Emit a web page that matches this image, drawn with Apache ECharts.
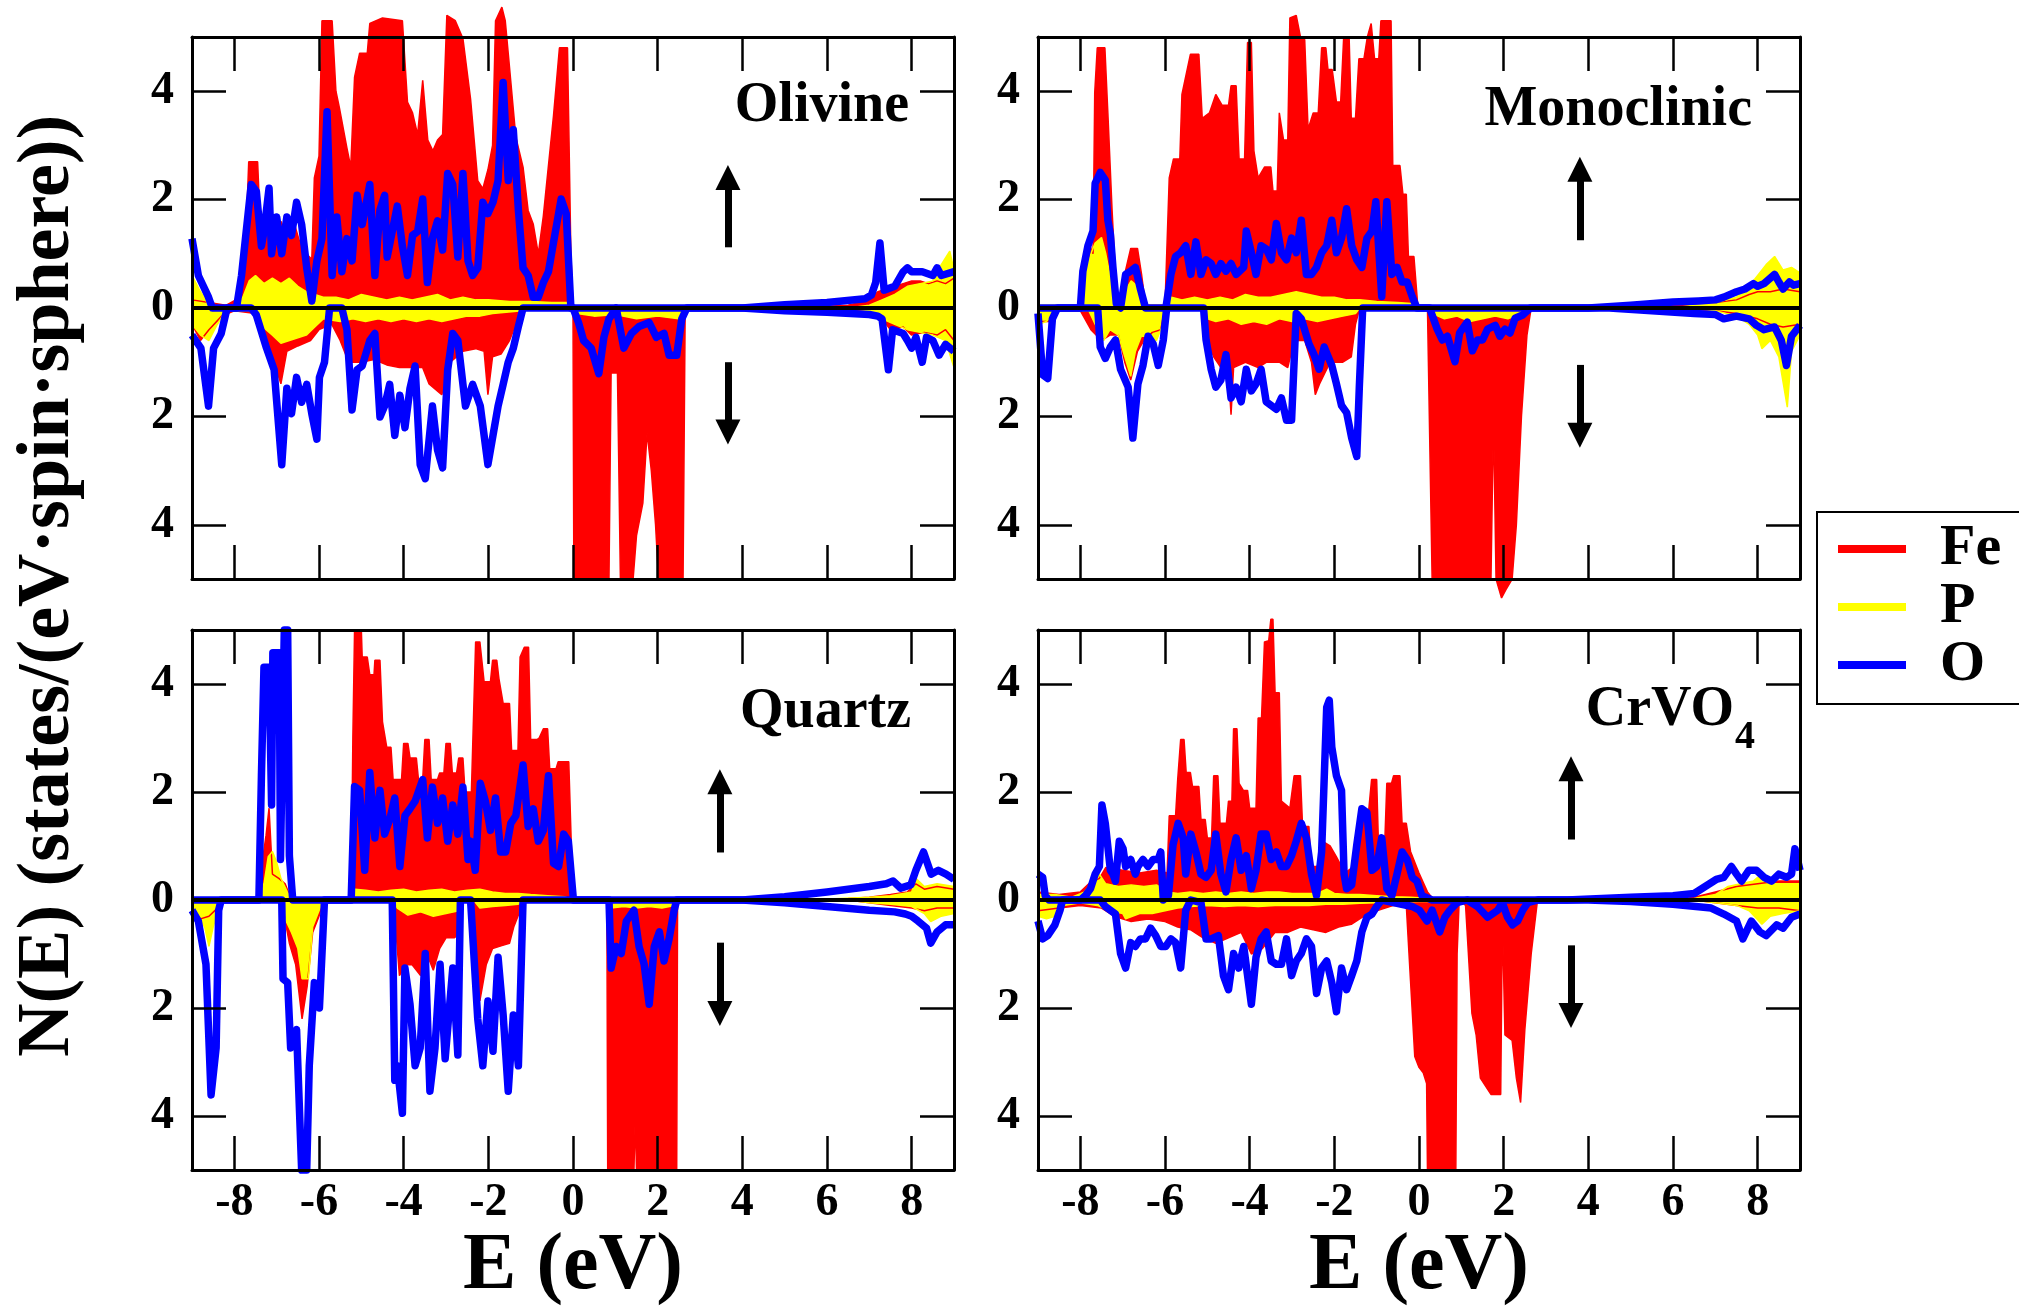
<!DOCTYPE html>
<html>
<head>
<meta charset="utf-8">
<title>Projected DOS</title>
<script src="https://cdn.jsdelivr.net/npm/echarts@6/dist/echarts.min.js"></script>
<style>
  html, body { margin: 0; padding: 0; background: #fff; }
  #chart { width: 2019px; height: 1308px; }
</style>
</head>
<body>
<div id="chart"></div>
<script>
// ---- tick positions ----
const energyTicks = [-8, -6, -4, -2, 0, 2, 4, 6, 8];
const dosTicks = [-4, -2, 0, 2, 4];
const speciesNames = ['Fe', 'P', 'O'];
const panelNames = ['Olivine', 'Monoclinic', 'Quartz', 'CrVO4'];

// ---- Olivine: [E (eV), N(E)] ; spin down stored as negative values ----
const olivineFeUp = [[-9,0.15],[-8.6,0.1],[-8.2,0.05],[-7.85,0.2],[-7.75,0.8],[-7.66,2.7],[-7.45,2.7],[-7.36,1.0],[-7.2,1.5],[-7.05,1.2],[-6.9,1.6],[-6.75,1.3],[-6.6,1.6],[-6.45,1.2],[-6.3,1.0],[-6.17,0.9],[-6.11,2.4],[-6.0,2.8],[-5.93,5.3],[-5.69,5.3],[-5.6,4.0],[-5.52,3.7],[-5.34,2.95],[-5.25,2.6],[-5.16,4.26],[-5.04,4.7],[-4.86,4.7],[-4.8,5.25],[-4.5,5.35],[-4.03,5.3],[-3.91,3.8],[-3.79,3.6],[-3.67,3.2],[-3.55,4.2],[-3.43,3.1],[-3.31,2.9],[-3.2,3.1],[-3.08,3.2],[-2.98,5.4],[-2.78,5.3],[-2.6,4.97],[-2.42,3.86],[-2.25,2.35],[-2.13,2.2],[-2.01,2.55],[-1.9,3.0],[-1.83,5.3],[-1.68,5.55],[-1.6,5.3],[-1.53,4.7],[-1.35,3.15],[-1.18,2.6],[-1.06,1.8],[-0.94,1.55],[-0.82,1.0],[-0.7,1.7],[-0.46,3.55],[-0.32,4.8],[-0.13,4.8],[-0.05,1.0],[0,0],[5,0],[6.5,0.05],[7.0,0.15],[7.2,0.3],[7.4,0.35],[7.6,0.4],[7.8,0.45],[8.0,0.5],[8.2,0.5],[8.4,0.45],[8.6,0.5],[8.8,0.45],[9.0,0.55]];
const olivineFeDn = [[-9,-0.3],[-8.8,-0.6],[-8.6,-0.4],[-8.3,-0.15],[-8.0,-0.05],[-7.5,-0.1],[-7.3,-0.5],[-7.1,-0.9],[-6.9,-1.4],[-6.76,-0.8],[-6.5,-0.7],[-6.2,-0.6],[-6.0,-0.4],[-5.7,-0.3],[-5.5,-0.6],[-5.3,-1.0],[-5.0,-1.0],[-4.7,-0.95],[-4.4,-1.05],[-4.1,-1.1],[-3.8,-1.1],[-3.55,-1.1],[-3.4,-1.4],[-3.1,-1.6],[-2.9,-1.0],[-2.6,-0.8],[-2.3,-0.75],[-2.1,-0.8],[-2.01,-1.6],[-1.9,-0.9],[-1.7,-0.85],[-1.5,-0.6],[-1.35,-0.3],[-1.2,0],[0,0],[0.02,-5],[0.85,-5],[0.9,-1.2],[1.05,-1.2],[1.12,-5],[1.42,-5],[1.5,-4.2],[1.65,-3.6],[1.75,-2.3],[1.85,-3.0],[1.95,-4.0],[2.02,-5],[2.6,-5],[2.65,0],[6.5,0],[7.0,-0.1],[7.3,-0.2],[7.5,-0.4],[7.8,-0.35],[8.0,-0.5],[8.3,-0.45],[8.6,-0.5],[8.8,-0.4],[9.0,-0.6]];
const olivinePUp = [[-9,0.6],[-8.8,0.3],[-8.6,0.05],[-8.0,0.02],[-7.8,0.2],[-7.65,0.5],[-7.5,0.6],[-7.3,0.45],[-7.1,0.55],[-6.9,0.45],[-6.7,0.55],[-6.5,0.4],[-6.3,0.3],[-6.1,0.25],[-5.9,0.2],[-5.6,0.2],[-5.3,0.15],[-5.0,0.25],[-4.7,0.2],[-4.4,0.15],[-4.1,0.2],[-3.8,0.15],[-3.5,0.2],[-3.2,0.25],[-2.9,0.15],[-2.6,0.2],[-2.3,0.15],[-2.0,0.15],[-1.5,0.12],[-1.0,0.12],[-0.5,0.1],[-0.1,0.1],[0,0],[6.5,0],[7.0,0.05],[7.3,0.15],[7.6,0.25],[7.9,0.4],[8.2,0.45],[8.5,0.5],[8.7,0.8],[8.9,1.05],[9.0,0.7]];
const olivinePDn = [[-9,-0.3],[-8.8,-0.5],[-8.6,-0.6],[-8.4,-0.3],[-8.2,-0.05],[-7.6,-0.05],[-7.4,-0.3],[-7.1,-0.5],[-6.9,-0.65],[-6.7,-0.6],[-6.5,-0.55],[-6.3,-0.5],[-6.1,-0.35],[-5.9,-0.2],[-5.5,-0.25],[-5.2,-0.2],[-4.9,-0.25],[-4.6,-0.2],[-4.3,-0.25],[-4.0,-0.2],[-3.7,-0.25],[-3.4,-0.2],[-3.1,-0.25],[-2.8,-0.2],[-2.5,-0.15],[-2.2,-0.15],[-1.9,-0.1],[-1.2,-0.05],[-1.0,0],[0,0],[0.1,-0.1],[0.5,-0.15],[1.0,-0.12],[1.5,-0.2],[2.0,-0.15],[2.5,-0.2],[2.65,0],[6.5,0],[7.0,-0.05],[7.3,-0.2],[7.6,-0.3],[7.9,-0.4],[8.2,-0.45],[8.5,-0.5],[8.8,-0.6],[9.0,-1.1]];
const olivineOUp = [[-9.0,1.28],[-8.85,0.6],[-8.61,0.2],[-8.52,0],[-7.95,0],[-7.83,0.6],[-7.72,1.41],[-7.6,2.28],[-7.48,2.15],[-7.36,1.14],[-7.3,1.41],[-7.18,2.21],[-7.12,1.0],[-7.0,1.68],[-6.88,1.0],[-6.76,1.68],[-6.65,1.34],[-6.53,1.95],[-6.41,1.54],[-6.29,0.74],[-6.17,0.13],[-6.05,0.87],[-5.93,1.28],[-5.81,3.62],[-5.69,0.6],[-5.58,1.68],[-5.46,0.67],[-5.34,1.28],[-5.22,0.87],[-5.1,2.08],[-4.98,1.54],[-4.8,2.28],[-4.68,0.6],[-4.56,1.81],[-4.45,2.08],[-4.39,0.94],[-4.27,1.41],[-4.15,1.88],[-4.03,1.14],[-3.91,0.6],[-3.79,1.34],[-3.67,1.41],[-3.55,2.01],[-3.44,0.47],[-3.32,1.28],[-3.2,1.61],[-3.08,1.07],[-2.96,2.48],[-2.84,2.28],[-2.72,0.94],[-2.6,2.48],[-2.48,0.87],[-2.37,0.6],[-2.25,0.74],[-2.13,1.95],[-2.01,1.74],[-1.89,1.95],[-1.77,2.35],[-1.65,4.16],[-1.53,2.35],[-1.41,3.29],[-1.29,1.81],[-1.18,0.74],[-1.06,0.6],[-0.94,0.2],[-0.82,0.2],[-0.7,0.47],[-0.58,0.67],[-0.46,1.21],[-0.28,2.01],[-0.16,1.74],[-0.05,0],[4,0],[5,0.06],[6,0.1],[6.9,0.17],[7.05,0.24],[7.15,0.47],[7.25,1.2],[7.35,0.33],[7.6,0.4],[7.8,0.67],[7.9,0.74],[8.0,0.67],[8.25,0.67],[8.5,0.6],[8.6,0.74],[8.7,0.6],[9.0,0.67]];
const olivineODn = [[-9.0,-0.5],[-8.79,-0.74],[-8.61,-1.81],[-8.49,-0.74],[-8.31,-0.47],[-8.17,0],[-7.6,0],[-7.48,-0.13],[-7.24,-0.74],[-7.06,-1.14],[-6.88,-2.89],[-6.76,-1.48],[-6.65,-1.95],[-6.53,-1.28],[-6.41,-1.74],[-6.29,-1.41],[-6.17,-1.95],[-6.05,-2.42],[-5.99,-1.28],[-5.87,-1.0],[-5.75,0],[-5.46,0],[-5.34,-0.4],[-5.22,-1.88],[-5.1,-1.14],[-4.98,-1.07],[-4.8,-0.6],[-4.68,-0.47],[-4.56,-2.01],[-4.45,-1.81],[-4.33,-1.41],[-4.21,-2.35],[-4.09,-1.61],[-3.97,-2.21],[-3.85,-1.48],[-3.73,-1.07],[-3.61,-2.89],[-3.49,-3.15],[-3.44,-2.75],[-3.32,-1.81],[-3.2,-2.62],[-3.08,-2.95],[-2.96,-1.14],[-2.84,-0.47],[-2.72,-0.6],[-2.54,-1.81],[-2.37,-1.41],[-2.19,-1.81],[-2.01,-2.89],[-1.89,-2.35],[-1.77,-1.81],[-1.65,-1.41],[-1.53,-1.0],[-1.41,-0.74],[-1.29,-0.34],[-1.18,0],[0,0],[0.13,-0.27],[0.25,-0.6],[0.43,-0.74],[0.61,-1.21],[0.73,-0.54],[0.85,-0.2],[1.02,0],[1.2,-0.74],[1.38,-0.47],[1.56,-0.34],[1.8,-0.27],[1.97,-0.54],[2.15,-0.47],[2.27,-0.87],[2.45,-0.87],[2.57,-0.2],[2.69,0],[4,0],[5,-0.05],[6,-0.08],[7,-0.12],[7.2,-0.15],[7.3,-0.2],[7.45,-1.14],[7.55,-0.4],[7.8,-0.47],[7.9,-0.6],[8.0,-0.74],[8.1,-0.54],[8.25,-1.0],[8.35,-0.54],[8.5,-0.6],[8.65,-0.87],[8.8,-0.67],[9,-0.8]];

// ---- Monoclinic ----
const monoFeUp = [[-9,0.03],[-8.05,0.03],[-7.9,0.9],[-7.8,1.2],[-7.7,1.0],[-7.66,3.97],[-7.6,4.8],[-7.42,4.8],[-7.35,3.6],[-7.25,1.8],[-7.15,0.3],[-7.05,0.05],[-6.93,0.7],[-6.81,1.1],[-6.65,1.1],[-6.55,0.6],[-6.46,0.05],[-6.0,0.05],[-5.9,2.4],[-5.8,2.75],[-5.65,2.75],[-5.6,3.94],[-5.4,4.68],[-5.2,4.68],[-5.12,3.5],[-4.95,3.6],[-4.8,3.94],[-4.65,3.74],[-4.5,3.74],[-4.44,4.1],[-4.32,4.1],[-4.25,2.75],[-4.12,2.75],[-4.05,4.9],[-3.96,4.9],[-3.9,2.9],[-3.8,2.4],[-3.65,2.6],[-3.5,2.6],[-3.45,2.16],[-3.35,2.16],[-3.3,3.6],[-3.2,3.1],[-3.1,3.1],[-3.05,5.35],[-2.9,5.4],[-2.8,5.0],[-2.7,4.95],[-2.62,3.3],[-2.5,3.6],[-2.38,3.6],[-2.3,4.8],[-2.2,4.8],[-2.15,4.4],[-2.05,4.4],[-1.95,3.8],[-1.85,3.8],[-1.78,4.98],[-1.65,4.98],[-1.6,3.5],[-1.5,3.5],[-1.42,4.6],[-1.3,4.6],[-1.22,5.0],[-1.13,5.25],[-1.05,4.6],[-0.95,4.6],[-0.9,5.3],[-0.66,5.3],[-0.62,2.63],[-0.45,2.63],[-0.38,2.1],[-0.3,2.1],[-0.25,0.95],[-0.12,0.95],[-0.03,0.05],[0,0],[5.5,0],[6.0,0.05],[6.5,0.08],[7.0,0.1],[7.5,0.15],[7.8,0.25],[8.0,0.3],[8.3,0.3],[8.6,0.35],[9.0,0.3]];
const monoFeDn = [[-9,-0.25],[-8.7,-0.25],[-8.5,-0.05],[-8.0,-0.05],[-7.75,-0.4],[-7.5,-0.6],[-7.3,-0.5],[-7.1,-0.5],[-6.95,-1.0],[-6.81,-1.33],[-6.65,-0.8],[-6.5,-0.6],[-6.3,-0.45],[-6.1,-0.4],[-6.0,0],[-5.1,0],[-5.0,-0.6],[-4.85,-0.9],[-4.68,-1.1],[-4.5,-1.2],[-4.44,-1.97],[-4.38,-1.1],[-4.1,-1.0],[-3.8,-1.1],[-3.6,-1.0],[-3.3,-1.0],[-3.1,-1.1],[-2.95,-0.6],[-2.7,-0.6],[-2.54,-1.0],[-2.45,-1.6],[-2.35,-1.4],[-2.1,-1.0],[-1.8,-1.0],[-1.6,-0.9],[-1.5,-0.3],[-1.4,0],[0.2,0],[0.31,-5.0],[1.7,-5.0],[1.76,-2.0],[1.82,-5.0],[1.95,-5.35],[2.05,-5.2],[2.2,-5.0],[2.3,-4.0],[2.42,-2.0],[2.55,-0.5],[2.65,0],[6.0,0],[7.0,-0.05],[7.5,-0.1],[8.0,-0.2],[8.3,-0.3],[8.6,-0.35],[9.0,-0.3]];
const monoPUp = [[-9,0.05],[-8.05,0.05],[-7.9,0.6],[-7.75,1.0],[-7.65,1.2],[-7.5,1.3],[-7.4,1.0],[-7.3,0.6],[-7.2,0.2],[-7.1,0.1],[-6.95,0.3],[-6.8,0.5],[-6.65,0.4],[-6.5,0.2],[-6.4,0.05],[-6.0,0.05],[-5.85,0.2],[-5.6,0.15],[-5.3,0.2],[-5.0,0.15],[-4.7,0.2],[-4.4,0.15],[-4.1,0.25],[-3.8,0.2],[-3.5,0.2],[-3.2,0.25],[-2.9,0.3],[-2.6,0.25],[-2.3,0.2],[-2.0,0.2],[-1.7,0.15],[-1.4,0.15],[-1.0,0.12],[-0.5,0.1],[-0.1,0.08],[0,0],[6,0],[6.5,0.05],[7.0,0.1],[7.5,0.2],[7.8,0.4],[8.0,0.6],[8.2,0.8],[8.4,0.95],[8.6,0.7],[8.8,0.75],[9.0,0.65]];
const monoPDn = [[-9,-0.3],[-8.8,-0.25],[-8.6,-0.05],[-7.8,-0.05],[-7.65,-0.3],[-7.45,-0.6],[-7.3,-0.4],[-7.1,-0.5],[-6.95,-0.9],[-6.81,-1.26],[-6.7,-0.8],[-6.55,-0.5],[-6.4,-0.55],[-6.2,-0.6],[-6.05,-0.3],[-5.95,0],[-5.1,0],[-5.0,-0.2],[-4.8,-0.25],[-4.5,-0.2],[-4.2,-0.3],[-3.9,-0.25],[-3.6,-0.3],[-3.3,-0.2],[-3.0,-0.25],[-2.7,-0.2],[-2.4,-0.25],[-2.1,-0.2],[-1.8,-0.15],[-1.5,-0.1],[-1.4,0],[0.2,0],[0.3,-0.1],[0.6,-0.2],[0.9,-0.15],[1.2,-0.25],[1.5,-0.2],[1.8,-0.15],[2.1,-0.2],[2.4,-0.1],[2.6,0],[6.5,0],[7.0,-0.05],[7.5,-0.15],[7.8,-0.3],[8.0,-0.5],[8.1,-0.75],[8.3,-0.6],[8.5,-0.9],[8.7,-1.83],[8.8,-0.8],[9.0,-0.5]];
const monoOUp = [[-9,0],[-8.0,0],[-7.94,0.68],[-7.82,1.15],[-7.7,1.42],[-7.65,2.3],[-7.53,2.5],[-7.41,2.36],[-7.35,1.62],[-7.29,1.36],[-7.23,0.75],[-7.15,0.08],[-7.05,0],[-6.93,0.62],[-6.81,0.68],[-6.7,0.75],[-6.58,0.35],[-6.46,0],[-5.98,0],[-5.86,0.62],[-5.75,0.95],[-5.63,1.02],[-5.51,1.15],[-5.39,0.62],[-5.27,1.22],[-5.15,0.62],[-5.03,0.89],[-4.91,0.82],[-4.8,0.62],[-4.68,0.82],[-4.56,0.68],[-4.44,0.82],[-4.32,0.62],[-4.14,0.75],[-4.08,1.42],[-3.96,1.02],[-3.85,0.62],[-3.73,1.15],[-3.61,1.09],[-3.49,0.89],[-3.37,1.56],[-3.25,1.02],[-3.13,0.89],[-3.01,1.29],[-2.9,1.02],[-2.78,1.62],[-2.66,0.62],[-2.54,0.62],[-2.42,0.75],[-2.3,1.02],[-2.18,1.15],[-2.06,1.62],[-1.95,1.02],[-1.83,1.29],[-1.71,1.83],[-1.59,1.15],[-1.47,0.89],[-1.35,0.75],[-1.23,1.29],[-1.11,1.42],[-1.02,1.96],[-0.94,0.95],[-0.88,0.21],[-0.76,1.96],[-0.64,0.62],[-0.52,0.75],[-0.4,0.48],[-0.28,0.48],[-0.16,0.21],[-0.05,0],[4,0],[5,0.05],[6,0.11],[6.6,0.13],[7.0,0.15],[7.2,0.2],[7.5,0.3],[7.7,0.35],[7.9,0.45],[8.0,0.4],[8.15,0.45],[8.4,0.62],[8.5,0.48],[8.6,0.35],[8.75,0.48],[8.85,0.42],[9.0,0.45]];
const monoODn = [[-9.0,-0.1],[-8.89,-1.23],[-8.77,-1.3],[-8.66,-0.2],[-8.54,0],[-7.59,0],[-7.53,-0.72],[-7.41,-0.93],[-7.29,-0.72],[-7.17,-0.59],[-7.05,-1.13],[-6.87,-1.46],[-6.76,-2.4],[-6.64,-1.4],[-6.52,-1.06],[-6.4,-0.52],[-6.28,-0.66],[-6.16,-1.06],[-6.04,-0.59],[-5.96,0],[-5.09,0],[-5.03,-0.59],[-4.91,-1.13],[-4.8,-1.46],[-4.68,-1.33],[-4.56,-0.86],[-4.44,-1.66],[-4.32,-1.46],[-4.2,-1.73],[-4.08,-1.13],[-3.96,-1.53],[-3.85,-1.4],[-3.73,-1.13],[-3.61,-1.73],[-3.49,-1.8],[-3.37,-1.87],[-3.25,-1.66],[-3.13,-2.07],[-3.01,-2.07],[-2.9,-0.1],[-2.78,-0.2],[-2.6,-0.66],[-2.48,-0.86],[-2.36,-1.13],[-2.24,-0.72],[-2.06,-1.06],[-1.95,-1.4],[-1.83,-1.8],[-1.71,-1.93],[-1.59,-2.4],[-1.47,-2.74],[-1.41,-1.46],[-1.33,0],[0.25,0],[0.43,-0.39],[0.55,-0.59],[0.67,-0.52],[0.85,-0.99],[0.96,-0.46],[1.14,-0.26],[1.26,-0.79],[1.38,-0.59],[1.5,-0.59],[1.62,-0.39],[1.8,-0.32],[1.91,-0.52],[2.03,-0.39],[2.15,-0.46],[2.27,-0.19],[2.45,-0.13],[2.63,0],[4.5,0],[5.5,-0.05],[6.5,-0.1],[7.0,-0.12],[7.2,-0.2],[7.5,-0.15],[7.8,-0.2],[7.97,-0.32],[8.15,-0.4],[8.4,-0.35],[8.56,-0.6],[8.68,-1.06],[8.8,-0.52],[9.0,-0.32]];

// ---- Quartz ----
const quartzFeUp = [[-9,0],[-7.42,0],[-7.36,0.6],[-7.25,1.2],[-7.18,1.7],[-7.1,0.48],[-6.95,0.4],[-6.8,0.3],[-6.7,0.1],[-6.62,0],[-5.24,0],[-5.2,3.0],[-5.16,5.0],[-5.0,5.0],[-4.98,4.5],[-4.86,4.5],[-4.8,4.17],[-4.7,4.17],[-4.68,4.44],[-4.56,4.44],[-4.5,3.3],[-4.4,2.83],[-4.3,2.83],[-4.25,2.23],[-4.05,2.23],[-4.0,2.9],[-3.9,2.9],[-3.85,2.63],[-3.7,2.63],[-3.65,2.23],[-3.55,2.23],[-3.5,2.97],[-3.4,2.97],[-3.35,2.23],[-3.2,2.23],[-3.15,2.35],[-3.05,2.35],[-3.0,2.9],[-2.9,2.9],[-2.85,2.35],[-2.75,2.35],[-2.7,2.63],[-2.6,2.63],[-2.55,2.0],[-2.4,2.0],[-2.3,4.78],[-2.2,4.78],[-2.1,4.04],[-1.95,4.04],[-1.9,4.44],[-1.8,4.44],[-1.75,4.1],[-1.65,3.64],[-1.5,3.64],[-1.45,2.77],[-1.3,2.77],[-1.25,4.5],[-1.15,4.68],[-1.05,4.68],[-1.0,2.97],[-0.85,2.97],[-0.8,3.0],[-0.7,3.17],[-0.6,3.17],[-0.55,2.43],[-0.4,2.43],[-0.35,2.56],[-0.1,2.56],[0,0],[5,0],[6.5,0.03],[7.0,0.05],[7.5,0.1],[7.9,0.15],[8.1,0.3],[8.3,0.2],[8.6,0.25],[9.0,0.2]];
const quartzFeDn = [[-9,-0.15],[-8.8,-0.35],[-8.6,-0.3],[-8.4,-0.15],[-8.3,0],[-6.9,0],[-6.82,-0.3],[-6.7,-0.8],[-6.55,-1.2],[-6.4,-2.2],[-6.28,-1.6],[-6.15,-0.6],[-6.0,-0.3],[-5.9,0],[-4.3,0],[-4.2,-0.4],[-4.1,-1.4],[-3.95,-1.2],[-3.8,-1.2],[-3.6,-1.4],[-3.45,-1.0],[-3.3,-1.3],[-3.15,-0.9],[-3.0,-0.7],[-2.8,-0.7],[-2.65,-0.6],[-2.6,0],[-2.4,0],[-2.3,-1.0],[-2.2,-1.87],[-2.05,-1.2],[-1.9,-0.9],[-1.7,-0.85],[-1.5,-0.8],[-1.4,-0.5],[-1.25,-0.2],[-1.18,0],[0.8,0],[0.82,-5],[1.44,-5],[1.47,-4.0],[1.5,-5],[2.45,-5],[2.47,0],[6.5,0],[7.0,-0.05],[7.5,-0.1],[8.0,-0.15],[8.3,-0.2],[8.6,-0.15],[9.0,-0.15]];
const quartzPUp = [[-9,0],[-7.4,0],[-7.3,0.3],[-7.2,0.8],[-7.1,0.9],[-7.0,0.7],[-6.9,0.4],[-6.75,0.15],[-6.65,0],[-5.25,0],[-5.15,0.2],[-4.9,0.18],[-4.6,0.15],[-4.3,0.18],[-4.0,0.2],[-3.7,0.15],[-3.4,0.18],[-3.1,0.2],[-2.8,0.15],[-2.5,0.18],[-2.2,0.2],[-1.9,0.15],[-1.6,0.12],[-1.3,0.12],[-1.0,0.1],[-0.6,0.08],[-0.2,0.06],[0,0],[5.5,0],[7.0,0.05],[7.5,0.08],[8.0,0.15],[8.1,0.4],[8.3,0.25],[8.6,0.3],[9.0,0.25]];
const quartzPDn = [[-9,-0.15],[-8.85,-0.3],[-8.7,-0.5],[-8.6,-0.86],[-8.5,-0.5],[-8.35,-0.1],[-8.3,0],[-6.9,0],[-6.8,-0.35],[-6.65,-0.6],[-6.5,-0.9],[-6.4,-1.46],[-6.25,-1.46],[-6.15,-0.5],[-6.0,-0.2],[-5.9,0],[-4.25,0],[-4.15,-0.15],[-3.9,-0.28],[-3.6,-0.22],[-3.3,-0.3],[-3.0,-0.25],[-2.7,-0.2],[-2.6,0],[-2.35,0],[-2.2,-0.15],[-1.9,-0.12],[-1.6,-0.1],[-1.3,-0.08],[-1.18,0],[0.85,0],[0.9,-0.15],[1.2,-0.12],[1.5,-0.15],[1.8,-0.12],[2.1,-0.15],[2.4,-0.1],[2.45,0],[6.5,0],[7.0,-0.05],[7.5,-0.08],[8.0,-0.12],[8.3,-0.25],[8.45,-0.4],[8.7,-0.3],[9.0,-0.25]];
const quartzOUp = [[-9,0],[-7.42,0],[-7.36,2.3],[-7.3,4.31],[-7.18,4.31],[-7.12,1.76],[-7.09,4.58],[-6.94,4.58],[-6.91,0.75],[-6.82,5.0],[-6.74,5.0],[-6.7,0.82],[-6.62,0],[-5.24,0],[-5.16,2.1],[-5.04,2.03],[-4.92,0.55],[-4.8,2.36],[-4.68,1.15],[-4.56,2.03],[-4.45,1.22],[-4.33,1.49],[-4.21,1.89],[-4.09,0.62],[-3.97,1.56],[-3.85,1.69],[-3.73,1.83],[-3.55,2.23],[-3.44,1.15],[-3.32,2.09],[-3.2,1.42],[-3.08,1.89],[-2.96,1.09],[-2.84,1.76],[-2.72,1.22],[-2.6,2.09],[-2.48,0.75],[-2.42,1.09],[-2.31,0.55],[-2.19,2.16],[-2.07,1.83],[-1.95,1.29],[-1.83,1.89],[-1.71,0.89],[-1.59,0.89],[-1.47,1.42],[-1.35,1.56],[-1.18,2.5],[-1.06,1.36],[-0.94,1.69],[-0.82,1.09],[-0.7,1.29],[-0.58,2.3],[-0.46,0.68],[-0.34,0.62],[-0.22,1.22],[-0.11,1.09],[0.01,0],[4,0],[5,0.06],[6,0.15],[6.5,0.2],[7.0,0.25],[7.4,0.3],[7.56,0.35],[7.74,0.22],[7.98,0.28],[8.1,0.55],[8.28,0.89],[8.46,0.48],[8.63,0.55],[8.81,0.48],[9.0,0.38]];
const quartzODn = [[-9,-0.19],[-8.85,-0.39],[-8.67,-1.19],[-8.55,-3.61],[-8.43,-2.74],[-8.37,-0.19],[-8.31,0],[-6.88,0],[-6.85,-1.46],[-6.74,-1.53],[-6.67,-2.74],[-6.53,-2.4],[-6.41,-5.0],[-6.29,-5.0],[-6.23,-3.07],[-6.11,-1.53],[-5.99,-2.0],[-5.87,0],[-4.27,0],[-4.21,-3.34],[-4.15,-3.07],[-4.03,-3.95],[-3.97,-1.26],[-3.85,-1.93],[-3.73,-3.07],[-3.61,-2.74],[-3.49,-0.99],[-3.38,-3.54],[-3.26,-2.74],[-3.14,-1.19],[-3.02,-2.94],[-2.84,-1.26],[-2.72,-2.87],[-2.66,0],[-2.42,0],[-2.25,-2.2],[-2.13,-3.07],[-2.01,-1.87],[-1.89,-2.8],[-1.77,-1.06],[-1.65,-2.13],[-1.53,-3.54],[-1.41,-2.13],[-1.29,-3.07],[-1.18,0],[0.85,0],[0.9,-1.26],[1.02,-0.86],[1.14,-0.99],[1.26,-0.39],[1.44,-0.19],[1.56,-0.86],[1.68,-1.19],[1.8,-1.93],[1.92,-0.86],[2.04,-0.59],[2.15,-1.13],[2.27,-0.72],[2.39,-0.19],[2.45,0],[4,0],[5,-0.05],[6,-0.12],[7,-0.19],[7.6,-0.22],[7.85,-0.26],[8.0,-0.3],[8.15,-0.39],[8.35,-0.52],[8.45,-0.8],[8.6,-0.59],[8.8,-0.46],[9.0,-0.46]];

// ---- CrVO4 ----
const crvoFeUp = [[-9,0.15],[-8.5,0.1],[-8.0,0.15],[-7.8,0.3],[-7.55,0.4],[-7.4,0.6],[-7.0,0.55],[-6.6,0.5],[-6.2,0.55],[-5.95,0.5],[-5.9,1.56],[-5.75,1.56],[-5.7,2.23],[-5.63,2.97],[-5.55,2.97],[-5.5,2.36],[-5.4,2.36],[-5.35,2.1],[-5.2,2.1],[-5.15,1.49],[-5.05,1.49],[-5.0,1.15],[-4.9,1.15],[-4.85,2.3],[-4.75,2.3],[-4.7,1.42],[-4.55,1.42],[-4.5,1.83],[-4.42,1.83],[-4.38,3.17],[-4.3,3.17],[-4.25,2.16],[-4.15,2.03],[-4.05,2.03],[-4.0,1.7],[-3.85,1.7],[-3.8,3.37],[-3.72,3.37],[-3.65,4.78],[-3.55,4.8],[-3.5,5.2],[-3.45,5.2],[-3.4,3.84],[-3.3,3.84],[-3.25,1.83],[-3.05,1.7],[-2.95,2.3],[-2.8,2.3],[-2.75,1.36],[-2.6,1.36],[-2.55,0.62],[-2.4,0.62],[-2.3,1.1],[-2.1,1.0],[-1.95,0.8],[-1.75,0.5],[-1.55,0.62],[-1.45,0.62],[-1.35,1.56],[-1.2,1.56],[-1.12,2.23],[-1.0,2.23],[-0.95,0.8],[-0.82,0.8],[-0.76,2.16],[-0.65,2.16],[-0.6,2.3],[-0.45,2.3],[-0.4,1.42],[-0.3,1.42],[-0.2,0.9],[0.0,0.5],[0.2,0.15],[0.35,0],[6.0,0],[6.5,0.05],[7.0,0.15],[7.5,0.25],[8.0,0.3],[8.5,0.35],[9.0,0.35]];
const crvoFeDn = [[-9,-0.2],[-8.5,-0.15],[-8.0,-0.1],[-7.5,-0.15],[-7.2,-0.3],[-6.8,-0.4],[-6.4,-0.35],[-6.0,-0.4],[-5.7,-0.5],[-5.4,-0.55],[-5.1,-0.7],[-4.8,-0.8],[-4.5,-0.7],[-4.2,-0.6],[-3.96,-1.0],[-3.7,-0.9],[-3.4,-0.6],[-3.1,-0.6],[-2.8,-0.5],[-2.5,-0.55],[-2.2,-0.6],[-1.9,-0.5],[-1.6,-0.45],[-1.3,-0.3],[-1.0,-0.2],[-0.6,-0.1],[-0.3,-0.1],[-0.2,-1.5],[-0.1,-2.9],[0.0,-3.1],[0.1,-3.2],[0.18,-3.4],[0.2,-5.0],[0.87,-5.0],[0.9,-1.0],[0.95,0],[1.1,-0.1],[1.25,-2.1],[1.35,-2.5],[1.45,-3.3],[1.7,-3.6],[1.93,-3.6],[1.97,-0.3],[2.03,-2.5],[2.2,-2.6],[2.3,-3.3],[2.4,-3.75],[2.5,-2.4],[2.65,-1.0],[2.8,0],[6.5,0],[7.0,-0.05],[7.5,-0.1],[8.0,-0.15],[8.5,-0.15],[9.0,-0.2]];
const crvoPUp = [[-9,0.1],[-8.6,0.1],[-8.2,0.05],[-7.9,0.15],[-7.7,0.35],[-7.55,0.48],[-7.4,0.3],[-7.1,0.25],[-6.8,0.28],[-6.5,0.25],[-6.2,0.28],[-5.95,0.15],[-5.7,0.12],[-5.4,0.15],[-5.1,0.12],[-4.8,0.15],[-4.5,0.12],[-4.2,0.15],[-3.9,0.12],[-3.6,0.15],[-3.3,0.15],[-3.0,0.12],[-2.7,0.12],[-2.4,0.12],[-2.18,0.2],[-2.0,0.12],[-1.7,0.1],[-1.4,0.1],[-1.0,0.08],[-0.6,0.06],[-0.2,0.05],[0.3,0.03],[1.0,0.02],[2.0,0.02],[3.0,0],[6.0,0],[6.5,0.03],[7.0,0.1],[7.3,0.25],[7.6,0.3],[7.9,0.35],[8.0,0.42],[8.3,0.3],[8.6,0.3],[9.0,0.3]];
const crvoPDn = [[-9,-0.3],[-8.8,-0.35],[-8.6,-0.3],[-8.4,-0.1],[-8.0,-0.05],[-7.6,-0.1],[-7.3,-0.2],[-7.0,-0.25],[-6.93,-0.35],[-6.6,-0.25],[-6.3,-0.25],[-6.0,-0.2],[-5.7,-0.15],[-5.4,-0.12],[-5.0,-0.1],[-4.6,-0.12],[-4.2,-0.1],[-3.8,-0.12],[-3.4,-0.1],[-3.0,-0.1],[-2.6,-0.1],[-2.2,-0.08],[-1.8,-0.08],[-1.4,-0.06],[-1.0,-0.05],[0,-0.03],[1.0,-0.03],[2.0,-0.03],[3.0,0],[6.5,0],[7.0,-0.05],[7.5,-0.1],[7.8,-0.2],[8.1,-0.45],[8.3,-0.3],[8.6,-0.25],[9.0,-0.2]];
const crvoOUp = [[-9.0,0.48],[-8.89,0.42],[-8.83,0.08],[-8.74,0],[-8.0,0],[-7.88,0.08],[-7.76,0.21],[-7.65,0.48],[-7.55,0.62],[-7.49,1.76],[-7.41,1.42],[-7.29,0.55],[-7.23,0.48],[-7.17,0.35],[-7.08,1.09],[-6.99,0.95],[-6.93,0.62],[-6.81,0.75],[-6.7,0.48],[-6.64,0.62],[-6.52,0.75],[-6.4,0.62],[-6.28,0.75],[-6.16,0.75],[-6.1,0.89],[-6.04,0],[-5.92,0.08],[-5.81,1.02],[-5.69,1.42],[-5.57,1.15],[-5.51,0.48],[-5.39,1.22],[-5.27,0.89],[-5.15,0.48],[-5.03,0.42],[-4.91,0.55],[-4.8,1.22],[-4.68,0.48],[-4.56,0.15],[-4.44,0.75],[-4.32,1.15],[-4.2,0.55],[-4.08,0.82],[-3.96,0.21],[-3.85,0.55],[-3.73,1.22],[-3.61,1.22],[-3.49,0.75],[-3.37,0.89],[-3.25,0.62],[-3.13,0.62],[-3.01,0.82],[-2.9,1.09],[-2.78,1.42],[-2.66,1.15],[-2.54,0.48],[-2.42,0.08],[-2.3,0.89],[-2.18,3.57],[-2.12,3.7],[-2.06,2.83],[-1.95,2.3],[-1.83,2.03],[-1.77,0.48],[-1.71,0.21],[-1.59,0.28],[-1.47,1.02],[-1.35,1.69],[-1.23,1.62],[-1.11,0.55],[-1.0,0.62],[-0.88,1.15],[-0.76,0.21],[-0.64,0.08],[-0.52,0.48],[-0.4,0.89],[-0.28,0.75],[-0.16,0.42],[-0.05,0.35],[0.07,0.08],[0.31,0],[3.5,0],[5,0.05],[6,0.08],[6.5,0.12],[7.02,0.38],[7.2,0.42],[7.38,0.62],[7.5,0.48],[7.62,0.35],[7.79,0.55],[7.97,0.55],[8.15,0.42],[8.33,0.35],[8.5,0.48],[8.68,0.42],[8.8,0.48],[8.88,0.95],[9.0,0.55]];
const crvoODn = [[-9,-0.39],[-8.89,-0.72],[-8.77,-0.66],[-8.6,-0.46],[-8.48,-0.19],[-8.42,0],[-7.53,0],[-7.41,-0.12],[-7.17,-0.26],[-7.05,-0.99],[-6.93,-1.26],[-6.81,-0.79],[-6.7,-0.86],[-6.58,-0.72],[-6.46,-0.72],[-6.34,-0.52],[-6.22,-0.66],[-6.1,-0.86],[-5.98,-0.86],[-5.86,-0.72],[-5.75,-0.79],[-5.63,-1.26],[-5.51,-0.19],[-5.39,0],[-5.15,-0.05],[-5.03,-0.72],[-4.91,-0.72],[-4.74,-0.66],[-4.62,-1.4],[-4.5,-1.66],[-4.38,-0.99],[-4.26,-1.26],[-4.14,-0.86],[-3.96,-1.93],[-3.85,-1.06],[-3.73,-0.72],[-3.61,-0.59],[-3.49,-1.13],[-3.37,-1.19],[-3.25,-1.19],[-3.13,-0.72],[-3.01,-1.4],[-2.9,-1.13],[-2.78,-0.99],[-2.66,-0.72],[-2.54,-0.86],[-2.42,-1.73],[-2.3,-1.26],[-2.18,-1.13],[-2.06,-1.53],[-1.95,-2.07],[-1.83,-1.26],[-1.71,-1.66],[-1.59,-1.4],[-1.47,-1.13],[-1.35,-0.59],[-1.23,-0.32],[-1.11,-0.26],[-1.0,-0.12],[-0.88,0],[-0.16,-0.12],[0.01,-0.19],[0.19,-0.39],[0.31,-0.19],[0.49,-0.59],[0.61,-0.32],[0.73,-0.19],[0.9,-0.05],[1.14,0],[1.38,-0.12],[1.62,-0.32],[1.86,-0.19],[1.97,-0.05],[2.09,-0.32],[2.21,-0.46],[2.33,-0.39],[2.45,-0.19],[2.57,-0.05],[2.81,0],[4,0],[5,-0.03],[6,-0.08],[6.9,-0.15],[7.2,-0.26],[7.5,-0.39],[7.65,-0.72],[7.85,-0.39],[8.05,-0.59],[8.2,-0.66],[8.45,-0.46],[8.6,-0.52],[8.8,-0.32],[9.0,-0.26]];

// ---- spin arrows: energy, [tail, head centre] for up and down ----
const arrowEnergy = [3.66, 3.8, 3.47, 3.59];
const arrowUp = [[1.12, 2.41], [1.25, 2.56], [0.88, 2.19], [1.12, 2.43]];
const arrowDown = [[-1.0, -2.29], [-1.05, -2.35], [-0.79, -2.1], [-0.84, -2.14]];

// ---- styling ----
const FONT = "'Liberation Serif', 'Times New Roman', serif";
const RED = '#ff0000', YELLOW = '#ffff00', BLUE = '#0000ff';

const panelData = [
  { fe: [olivineFeUp, olivineFeDn], p: [olivinePUp, olivinePDn], o: [olivineOUp, olivineODn] },
  { fe: [monoFeUp, monoFeDn], p: [monoPUp, monoPDn], o: [monoOUp, monoODn] },
  { fe: [quartzFeUp, quartzFeDn], p: [quartzPUp, quartzPDn], o: [quartzOUp, quartzODn] },
  { fe: [crvoFeUp, crvoFeDn], p: [crvoPUp, crvoPDn], o: [crvoOUp, crvoODn] }
];
const panelBoxes = [
  { left: 192, top: 37, width: 762, height: 542 },
  { left: 1038, top: 37, width: 762, height: 542 },
  { left: 192, top: 630, width: 762, height: 541 },
  { left: 1038, top: 630, width: 762, height: 541 }
];

const frameLine = { show: true, onZero: false, lineStyle: { color: '#000', width: 3 } };
const innerTick = (vals) => ({ show: true, inside: true, length: 34, customValues: vals, lineStyle: { color: '#000', width: 2.5 } });
const tickFont = { fontSize: 46, fontWeight: 'bold', fontFamily: FONT, color: '#000' };

const grids = [], xAxes = [], yAxes = [], series = [];

panelBoxes.forEach((box, i) => {
  grids.push(Object.assign({ containLabel: false }, box));
  const bottomRow = i >= 2;
  xAxes.push({
    gridIndex: i, type: 'value', min: -9, max: 9, position: 'bottom', z: 5,
    axisLine: frameLine, axisTick: innerTick(energyTicks), splitLine: { show: false },
    axisLabel: Object.assign({ show: bottomRow, customValues: energyTicks, margin: 10, formatter: v => String(v) }, tickFont),
    name: bottomRow ? 'E (eV)' : '', nameLocation: 'middle', nameGap: 57,
    nameTextStyle: { fontSize: 80, fontWeight: 'bold', fontFamily: FONT, color: '#000' }
  });
  xAxes.push({
    gridIndex: i, type: 'value', min: -9, max: 9, position: 'top', z: 5,
    axisLine: frameLine, axisTick: innerTick(energyTicks), splitLine: { show: false },
    axisLabel: { show: false }
  });
  yAxes.push({
    gridIndex: i, type: 'value', min: -5, max: 5, position: 'left', z: 5,
    axisLine: frameLine, axisTick: innerTick(dosTicks), splitLine: { show: false },
    axisLabel: Object.assign({ show: true, customValues: dosTicks, margin: 18, formatter: v => String(Math.abs(v)) }, tickFont)
  });
  yAxes.push({
    gridIndex: i, type: 'value', min: -5, max: 5, position: 'right', z: 5,
    axisLine: frameLine, axisTick: innerTick(dosTicks), splitLine: { show: false },
    axisLabel: { show: false }
  });

  const d = panelData[i];
  const base = { type: 'line', xAxisIndex: 2 * i, yAxisIndex: 2 * i, showSymbol: false, symbol: 'none', clip: false, silent: true, z: 2 };
  [[d.fe, 'Fe', RED], [d.p, 'P', YELLOW]].forEach(([pair, name, col]) => {
    pair.forEach(arr => series.push(Object.assign({}, base, {
      name, data: arr,
      itemStyle: { color: col },
      lineStyle: { color: col, width: 1.5 },
      areaStyle: { color: col, opacity: 1, origin: 0 }
    })));
  });
  d.o.forEach(arr => series.push(Object.assign({}, base, {
    name: 'O', data: arr,
    itemStyle: { color: BLUE },
    lineStyle: { color: BLUE, width: 7.5, join: 'round' }
  })));

  // zero line with the spin arrows
  const ex = arrowEnergy[i];
  series.push(Object.assign({}, base, {
    name: 'zero', z: 3,
    data: [[-9, 0], [9, 0]],
    lineStyle: { color: '#000', width: 4 },
    markLine: {
      silent: true, animation: false,
      symbol: ['none', 'triangle'], symbolSize: 25,
      label: { show: false },
      lineStyle: { color: '#000', width: 7, type: 'solid' },
      data: [
        [{ coord: [ex, arrowUp[i][0]] }, { coord: [ex, arrowUp[i][1]] }],
        [{ coord: [ex, arrowDown[i][0]] }, { coord: [ex, arrowDown[i][1]] }]
      ]
    }
  }));
});

const labelFont = 'bold 56px ' + FONT;
const option = {
  animation: false,
  backgroundColor: '#fff',
  grid: grids,
  xAxis: xAxes,
  yAxis: yAxes,
  series: series,
  legend: {
    data: speciesNames, orient: 'vertical', left: 1817, top: 512,
    padding: [8, 19, 10, 21], itemWidth: 68, itemHeight: 8, itemGap: 0,
    icon: 'rect', selectedMode: false, borderColor: '#000', borderWidth: 2,
    textStyle: { fontSize: 58, fontWeight: 'bold', fontFamily: FONT, color: '#000', lineHeight: 57, padding: [0, 0, 0, 29] }
  },
  graphic: [
    { type: 'text', x: 49, y: 586, rotation: Math.PI / 2,
      style: { text: 'N(E) (states/(eV\u00B7spin\u00B7sphere))', font: 'bold 74px ' + FONT, fill: '#000', align: 'center', verticalAlign: 'middle' } },
    { type: 'text', x: 909, y: 107, style: { text: panelNames[0], font: labelFont, fill: '#000', align: 'right', verticalAlign: 'middle' } },
    { type: 'text', x: 1752, y: 111, style: { text: panelNames[1], font: labelFont, fill: '#000', align: 'right', verticalAlign: 'middle' } },
    { type: 'text', x: 911, y: 713, style: { text: panelNames[2], font: labelFont, fill: '#000', align: 'right', verticalAlign: 'middle' } },
    { type: 'text', x: 1734, y: 711, style: { text: 'CrVO', font: labelFont, fill: '#000', align: 'right', verticalAlign: 'middle' } },
    { type: 'text', x: 1735, y: 738, style: { text: '4', font: 'bold 40px ' + FONT, fill: '#000', align: 'left', verticalAlign: 'middle' } }
  ]
};

const chart = echarts.init(document.getElementById('chart'), null, { renderer: 'canvas' });
chart.setOption(option);
</script>
</body>
</html>
